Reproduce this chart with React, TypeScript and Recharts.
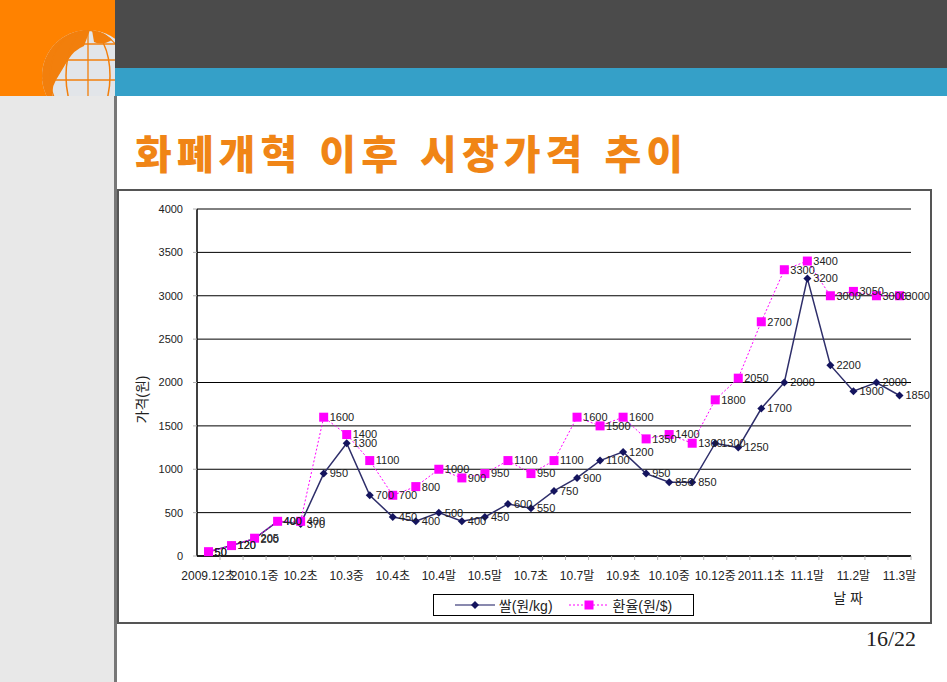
import React from 'react';
import {
  LineChart,
  Line,
  XAxis,
  YAxis,
  CartesianGrid,
  Legend,
  LabelList,
} from 'recharts';

// 조사 시점 (짝수 번째만 축에 표시)
const periods = [
  '2009.12초', '2010.1초', '2010.1중', '10.1말', '10.2초', '10.3초', '10.3중', '10.3말',
  '10.4초', '10.4중', '10.4말', '10.5초', '10.5말', '10.6초', '10.7초', '10.7중',
  '10.7말', '10.8중', '10.9초', '10.9말', '10.10중', '10.11중', '10.12중', '10.12말',
  '2011.1초', '11.1중', '11.1말', '11.2초', '11.2말', '11.3초', '11.3말',
];

// 쌀(원/kg)
const ricePrices = [
  50, 120, 200, 400, 370, 950, 1300, 700, 450, 400, 500, 400, 450, 600, 550, 750,
  900, 1100, 1200, 950, 850, 850, 1300, 1250, 1700, 2000, 3200, 2200, 1900, 2000, 1850,
];

// 환율(원/$)
const exchangeRates = [
  50, 120, 205, 400, 400, 1600, 1400, 1100, 700, 800, 1000, 900, 950, 1100, 950, 1100,
  1600, 1500, 1600, 1350, 1400, 1300, 1800, 2050, 2700, 3300, 3400, 3000, 3050, 3000, 3000,
];

const yTicks = [0, 500, 1000, 1500, 2000, 2500, 3000, 3500, 4000];

const data = periods.map((name, i) => ({
  name,
  rice: ricePrices[i],
  rate: exchangeRates[i],
}));

const FONT = "'Liberation Sans', 'Noto Sans CJK KR', sans-serif";
const RICE = '#14145e';
const RATE = '#ff00ff';

const CHART_W = 812;
const CHART_H = 431;
const PLOT_W = 714;
const HALF_BAND = PLOT_W / periods.length / 2;

function Diamond(props: any) {
  const { cx, cy } = props;
  if (cx == null || cy == null) return null;
  const r = 4;
  return (
    <polygon
      points={`${cx},${cy - r} ${cx + r},${cy} ${cx},${cy + r} ${cx - r},${cy}`}
      fill={RICE}
    />
  );
}

function Square(props: any) {
  const { cx, cy } = props;
  if (cx == null || cy == null) return null;
  return <rect x={cx - 4.5} y={cy - 4.5} width={9} height={9} fill={RATE} />;
}

function PeriodTick(props: any) {
  const { x, y, payload } = props;
  const idx = payload.index;
  return (
    <g>
      <line x1={x + HALF_BAND} y1={y} x2={x + HALF_BAND} y2={y + 4} stroke="#b0b0b0" />
      {idx % 2 === 0 && (
        <text x={x} y={y + 24} textAnchor="middle" fontSize={12} fill="#222" fontFamily={FONT}>
          {payload.value}
        </text>
      )}
    </g>
  );
}

function LegendBox() {
  return (
    <div
      style={{
        width: 261,
        height: 22,
        boxSizing: 'border-box',
        border: '1px solid #000',
        background: '#fff',
        display: 'flex',
        alignItems: 'center',
        justifyContent: 'center',
        gap: 16,
        fontFamily: FONT,
        fontSize: 14,
        color: '#222',
      }}
    >
      <span style={{ display: 'flex', alignItems: 'center' }}>
        <svg width={40} height={12} style={{ marginRight: 4 }}>
          <line x1={0} y1={6} x2={40} y2={6} stroke={RICE} strokeWidth={1.2} />
          <polygon points="20,2 24,6 20,10 16,6" fill={RICE} />
        </svg>
        쌀(원/kg)
      </span>
      <span style={{ display: 'flex', alignItems: 'center' }}>
        <svg width={40} height={12} style={{ marginRight: 4 }}>
          <line x1={0} y1={6} x2={40} y2={6} stroke={RATE} strokeDasharray="2 2" />
          <rect x={15.5} y={1.5} width={9} height={9} fill={RATE} />
        </svg>
        환율(원/$)
      </span>
    </div>
  );
}

function Globe() {
  const o = '#f27f0c';
  return (
    <svg width={115} height={96} style={{ position: 'absolute', left: 0, top: 0 }}>
      <defs>
        <clipPath id="g">
          <circle cx={88} cy={76} r={46} />
        </clipPath>
      </defs>
      <rect width={115} height={96} fill="#ff8200" />
      <circle cx={88} cy={76} r={46} fill="#e2e5e9" />
      <g clipPath="url(#g)">
        <path d="M62 36 Q74 28 90 30 L84 46 Q74 50 68 60 Q62 70 56 80 Q50 90 54 100 L40 100 L40 50Z" fill={o} />
        <path d="M92 30 Q104 32 112 40 Q102 46 94 42Z" fill={o} />
        <ellipse cx={88} cy={76} rx={22} ry={46} fill="none" stroke={o} strokeWidth={1.5} />
        <ellipse cx={88} cy={76} rx={38} ry={46} fill="none" stroke={o} strokeWidth={1.2} />
        <line x1={40} y1={60} x2={134} y2={60} stroke={o} strokeWidth={1.3} />
        <line x1={40} y1={80} x2={134} y2={80} stroke={o} strokeWidth={1.3} />
        <line x1={40} y1={44} x2={134} y2={44} stroke={o} strokeWidth={1.3} />
        <line x1={88} y1={30} x2={88} y2={122} stroke={o} strokeWidth={1.3} />
      </g>
    </svg>
  );
}

export default function App() {
  return (
    <div
      style={{
        position: 'absolute',
        left: 0,
        top: 0,
        width: 947,
        height: 682,
        background: '#fff',
        overflow: 'hidden',
      }}
    >
      <Globe />
      <div style={{ position: 'absolute', left: 115, top: 0, width: 832, height: 68, background: '#4b4b4b' }} />
      <div style={{ position: 'absolute', left: 115, top: 68, width: 832, height: 28, background: '#35a0c8' }} />
      <div style={{ position: 'absolute', left: 0, top: 96, width: 115, height: 586, background: '#e8e8e8' }} />
      <div style={{ position: 'absolute', left: 114, top: 96, width: 3, height: 586, background: '#777' }} />

      <div
        style={{
          position: 'absolute',
          left: 135,
          top: 128,
          fontFamily: "'Noto Sans CJK KR', sans-serif",
          fontWeight: 900,
          fontSize: 40,
          letterSpacing: 5,
          wordSpacing: 3,
          color: '#f08516',
          lineHeight: '48px',
          whiteSpace: 'nowrap',
        }}
      >
        화폐개혁 이후 시장가격 추이
      </div>

      <div
        style={{
          position: 'absolute',
          left: 117,
          top: 189,
          width: 815,
          height: 435,
          boxSizing: 'border-box',
          border: '2px solid #555',
        }}
      />

      <div style={{ position: 'absolute', left: 118, top: 191 }}>
        <LineChart
          width={CHART_W}
          height={CHART_H}
          data={data}
          margin={{ top: 18, right: 19, bottom: 16, left: 0 }}
        >
          <CartesianGrid vertical={false} stroke="#000" strokeWidth={1} />
          <XAxis
            dataKey="name"
            interval={0}
            height={50}
            padding={{ left: HALF_BAND, right: HALF_BAND }}
            tickSize={0}
            tickMargin={0}
            tickLine={false}
            axisLine={{ stroke: '#000', strokeWidth: 1.5 }}
            tick={<PeriodTick />}
            label={{
              content: (p: any) => {
                const vb = p.viewBox;
                return (
                  <text
                    x={vb.x + vb.width - 63}
                    y={vb.y + 47}
                    textAnchor="middle"
                    fontSize={14}
                    fill="#222"
                    fontFamily={FONT}
                  >
                    날 짜
                  </text>
                );
              },
            }}
          />
          <XAxis
            xAxisId="top"
            dataKey="name"
            orientation="top"
            height={0}
            tick={false}
            tickLine={false}
            axisLine={{ stroke: '#9a9a9a' }}
          />
          <YAxis
            width={79}
            domain={[0, 4000]}
            ticks={yTicks}
            interval={0}
            tickSize={4}
            tickMargin={10}
            tickLine={{ stroke: '#b0b0b0' }}
            axisLine={{ stroke: '#000', strokeWidth: 1.5 }}
            tick={{ fontSize: 11, fill: '#222', fontFamily: FONT }}
            label={{
              content: (p: any) => {
                const vb = p.viewBox;
                const cx = 25;
                const cy = vb.y + vb.height / 2 + 17;
                return (
                  <text
                    x={cx}
                    y={cy}
                    transform={`rotate(-90 ${cx} ${cy})`}
                    textAnchor="middle"
                    dominantBaseline="middle"
                    fontSize={14}
                    fill="#222"
                    fontFamily={FONT}
                  >
                    가격(원)
                  </text>
                );
              },
            }}
          />
          <YAxis
            yAxisId="right"
            orientation="right"
            width={0}
            domain={[0, 4000]}
            tick={false}
            tickLine={false}
            axisLine={{ stroke: '#9a9a9a' }}
          />
          <Legend
            verticalAlign="middle"
            layout="horizontal"
            wrapperStyle={{ left: 315, top: 403, width: 261, height: 22 }}
            content={() => <LegendBox />}
          />
          <Line
            dataKey="rice"
            name="쌀(원/kg)"
            stroke="#2e2e6a"
            strokeWidth={1.5}
            dot={<Diamond />}
            activeDot={false}
            isAnimationActive={false}
          >
            <LabelList dataKey="rice" position="right" offset={6} fontSize={11} fill="#222" fontFamily={FONT} />
          </Line>
          <Line
            dataKey="rate"
            name="환율(원/$)"
            stroke={RATE}
            strokeWidth={1}
            strokeDasharray="2 2"
            dot={<Square />}
            activeDot={false}
            isAnimationActive={false}
          >
            <LabelList dataKey="rate" position="right" offset={6} fontSize={11} fill="#222" fontFamily={FONT} />
          </Line>
        </LineChart>
      </div>

      <div
        style={{
          position: 'absolute',
          left: 840,
          top: 626,
          width: 76,
          textAlign: 'right',
          fontFamily: "'Liberation Serif', serif",
          fontSize: 22,
          color: '#222',
        }}
      >
        16/22
      </div>
    </div>
  );
}
